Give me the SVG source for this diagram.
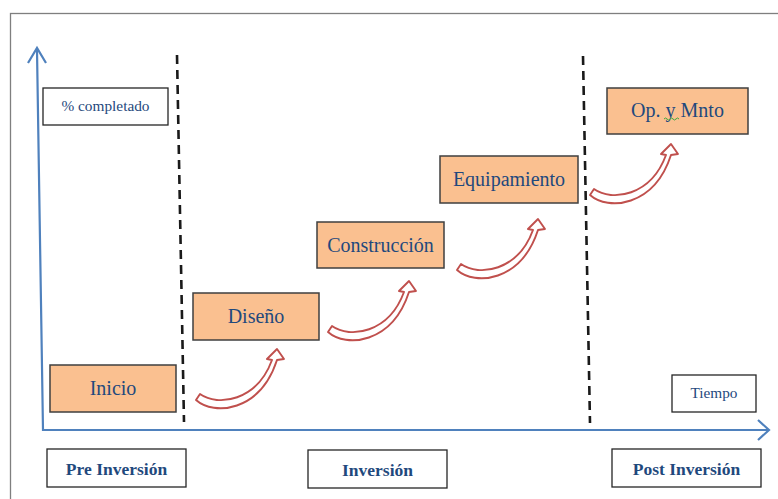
<svg xmlns="http://www.w3.org/2000/svg" xmlns:xlink="http://www.w3.org/1999/xlink" width="778" height="499" viewBox="0 0 778 499">
<style>
.step{fill:#fac090;stroke:#3f3f3f;stroke-width:1.5}
.plain{fill:#ffffff;stroke:#262626;stroke-width:1.3}
.lbl{font-family:"Liberation Serif","Times New Roman",serif;font-size:20px;fill:#1f497d;text-anchor:middle}
.small{font-family:"Liberation Serif","Times New Roman",serif;font-size:14.5px;fill:#1f497d;text-anchor:middle}
.phase{font-family:"Liberation Serif","Times New Roman",serif;font-size:17.5px;font-weight:bold;fill:#1f497d;text-anchor:middle}
.axis{fill:none;stroke:#4f81bd;stroke-width:2.2}
.dash{stroke:#1a1a1a;stroke-width:2.6;stroke-dasharray:9,6;fill:none}
.carrow{fill:#ffffff;stroke:#c0504d;stroke-width:1.9;stroke-linejoin:round}
</style>
<defs>
<path id="carrow" d="M 0,2 C 18,18 64,14 81,-38 L 88,-39 L 81,-49 L 71,-39 L 76,-38 C 61,3 22,9 4,-4 Z"/>
</defs>
<rect x="0" y="0" width="778" height="499" fill="#ffffff"/>
<rect x="10.5" y="13.5" width="800" height="520" fill="none" stroke="#7f7f7f" stroke-width="1.3"/>

<g id="axes">
<polyline class="axis" points="37,50 43,430 768,430"/>
<polyline class="axis" points="28,63 37,48 46,63"/>
<polyline class="axis" points="758,420 769,430 758,440"/>
</g>

<g id="dividers">
<line class="dash" x1="177" y1="55" x2="184" y2="422"/>
<line class="dash" x1="583" y1="56" x2="590" y2="423"/>
</g>

<g id="connectors">
<use xlink:href="#carrow" class="carrow" transform="translate(196,398)"/>
<use xlink:href="#carrow" class="carrow" transform="translate(328,330)"/>
<use xlink:href="#carrow" class="carrow" transform="translate(457,268)"/>
<use xlink:href="#carrow" class="carrow" transform="translate(590,193)"/>
</g>

<g id="ylabel">
<rect class="plain" x="43" y="88" width="125" height="37"/>
<text class="small" x="105.5" y="111" textLength="88" lengthAdjust="spacingAndGlyphs">% completado</text>
</g>

<g id="inicio">
<rect class="step" x="50" y="365" width="126" height="47"/>
<text class="lbl" x="113" y="395">Inicio</text>
</g>

<g id="diseno">
<rect class="step" x="193" y="293" width="126" height="47"/>
<text class="lbl" x="256" y="323">Diseño</text>
</g>

<g id="construccion">
<rect class="step" x="317" y="222" width="127" height="46"/>
<text class="lbl" x="380.5" y="251.5">Construcción</text>
</g>

<g id="equipamiento">
<rect class="step" x="440" y="156" width="138" height="47"/>
<text class="lbl" x="509" y="186">Equipamiento</text>
</g>

<g id="opmnto">
<rect class="step" x="607" y="88" width="141" height="46"/>
<text class="lbl" x="677.5" y="117">Op. y Mnto</text>
<path d="M 664,119 q 1.5,-2 3,0 t 3,0 t 3,0 t 3,0 t 3,0" fill="none" stroke="#3da83d" stroke-width="1"/>
</g>

<g id="tiempo">
<rect class="plain" x="672" y="375" width="84" height="37"/>
<text class="small" x="714" y="398" textLength="47" lengthAdjust="spacingAndGlyphs">Tiempo</text>
</g>

<g id="preinversion">
<rect class="plain" x="47" y="449" width="139" height="38"/>
<text class="phase" x="116.5" y="475">Pre Inversión</text>
</g>

<g id="inversion">
<rect class="plain" x="308" y="450" width="139" height="38"/>
<text class="phase" x="377.5" y="476">Inversión</text>
</g>

<g id="postinversion">
<rect class="plain" x="612" y="449" width="149" height="38"/>
<text class="phase" x="686.5" y="475">Post Inversión</text>
</g>
</svg>
